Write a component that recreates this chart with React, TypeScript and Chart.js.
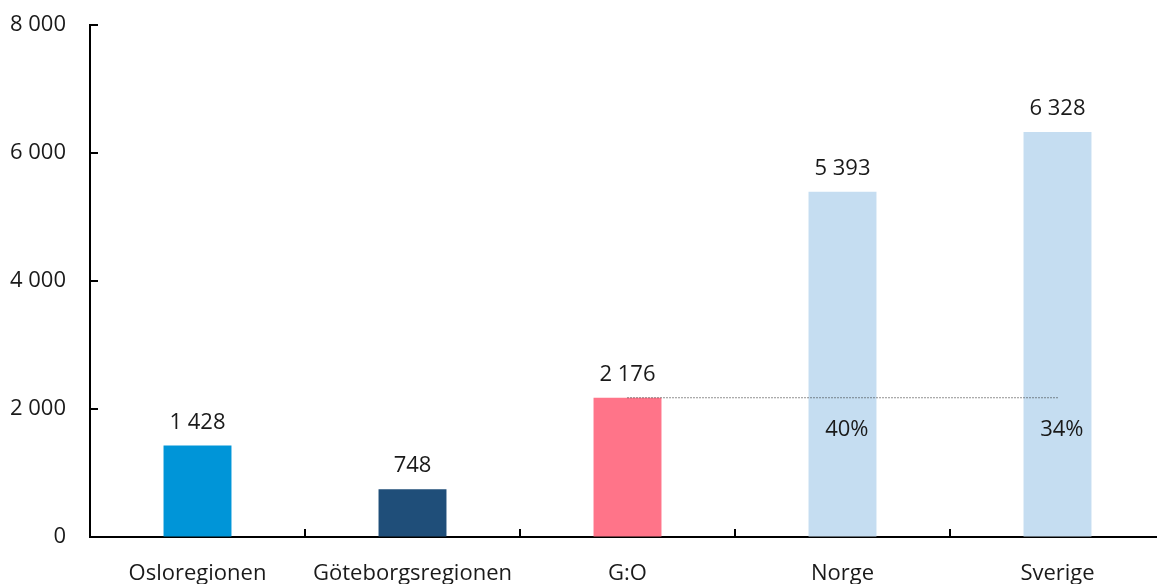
import React, { useEffect, useRef } from "react";
import { Chart, registerables } from "chart.js";

Chart.register(...registerables);

const categories = ["Osloregionen", "Göteborgsregionen", "G:O", "Norge", "Sverige"];
const values = [1428, 748, 2176, 5393, 6328];
const barColors = ["#0095D8", "#1F4E79", "#FF7489", "#C5DDF1", "#C5DDF1"];
const referenceLine = [null, null, 2176, 2176, 2176];
const shareLabels = ["", "", "", "40%", "34%"];
const yMin = 0;
const yMax = 8000;
const yStep = 2000;

const FONT = "'Open Sans', sans-serif";
const fmt = (v: number) => String(Math.round(v)).replace(/\B(?=(\d{3})+(?!\d))/g, " ");

const overlayPlugin = {
  id: "overlay",
  afterDatasetsDraw(chart: any) {
    const ctx = chart.ctx;
    const x = chart.scales.x;
    const y = chart.scales.y;
    const area = chart.chartArea;
    ctx.save();
    ctx.strokeStyle = "#000";
    ctx.lineWidth = 2;
    y.ticks.forEach((t: any) => {
      const py = Math.round(y.getPixelForValue(t.value));
      if (t.value === yMin) return;
      ctx.beginPath();
      ctx.moveTo(area.left, py);
      ctx.lineTo(area.left + 8, py);
      ctx.stroke();
    });
    for (let i = 1; i < categories.length; i++) {
      const px = Math.round((x.getPixelForValue(i - 1) + x.getPixelForValue(i)) / 2);
      ctx.beginPath();
      ctx.moveTo(px, area.bottom);
      ctx.lineTo(px, area.bottom - 8);
      ctx.stroke();
    }
    ctx.fillStyle = "#1a1a1a";
    ctx.font = `22px ${FONT}`;
    ctx.textAlign = "center";
    ctx.textBaseline = "middle";
    const meta = chart.getDatasetMeta(0);
    meta.data.forEach((bar: any, i: number) => {
      ctx.fillText(fmt(values[i]), bar.x, bar.y - 23);
      if (shareLabels[i]) {
        ctx.textAlign = "right";
        ctx.fillText(shareLabels[i], bar.x + bar.width / 2 - 8, y.getPixelForValue(values[2]) + 32);
        ctx.textAlign = "center";
      }
    });
    ctx.restore();
  },
};

export default function App() {
  const ref = useRef<HTMLCanvasElement>(null);
  useEffect(() => {
    if (!ref.current) return;
    const chart = new Chart(ref.current, {
      type: "bar",
      data: {
        labels: categories,
        datasets: [
          {
            type: "bar",
            data: values,
            backgroundColor: barColors,
            borderWidth: 0,
            barPercentage: 0.316,
            categoryPercentage: 1,
            order: 2,
          },
          {
            type: "line",
            data: referenceLine as any,
            borderColor: "#222",
            borderWidth: 1,
            borderDash: [1, 2],
            pointRadius: 0,
            fill: false,
            spanGaps: false,
            order: 1,
          } as any,
        ],
      },
      options: {
        animation: false,
        responsive: false,
        maintainAspectRatio: false,
        layout: { padding: { top: 25, right: 10, left: 0, bottom: 0 } },
        plugins: { legend: { display: false }, tooltip: { enabled: false } },
        scales: {
          x: {
            grid: { display: true, drawOnChartArea: false, drawTicks: false },
            border: { color: "#000", width: 2 },
            ticks: { color: "#1a1a1a", font: { family: FONT, size: 22 }, padding: 24, maxRotation: 0 },
            afterFit: (s: any) => {
              s.height = 47;
              s.paddingLeft = 0;
              s.paddingRight = 0;
            },
          },
          y: {
            min: yMin,
            max: yMax,
            grid: { display: true, drawOnChartArea: false, drawTicks: false },
            border: { color: "#000", width: 2 },
            ticks: {
              stepSize: yStep,
              color: "#1a1a1a",
              font: { family: FONT, size: 22 },
              padding: 24,
              callback: (v: any) => fmt(Number(v)),
            },
            afterFit: (s: any) => {
              s.width = 90;
              s.paddingTop = 0;
              s.paddingBottom = 0;
            },
          },
        },
      },
      plugins: [overlayPlugin],
    });
    return () => chart.destroy();
  }, []);
  return (
    <div style={{ position: "fixed", left: 0, top: 0, width: 1157, height: 584, overflow: "hidden", background: "#fff" }}>
      <canvas ref={ref} width={1175} height={584} style={{ display: "block", width: 1175, height: 584 }} />
    </div>
  );
}
